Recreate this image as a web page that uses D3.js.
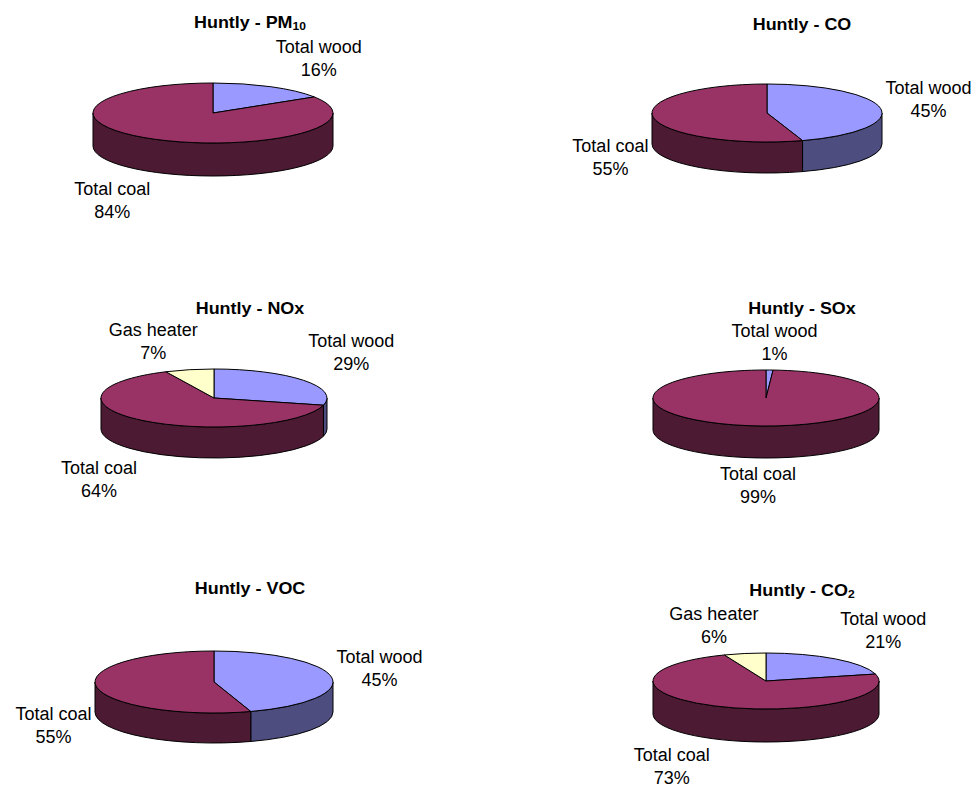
<!DOCTYPE html>
<html>
<head>
<meta charset="utf-8">
<script src="https://cdn.jsdelivr.net/npm/d3@7/dist/d3.min.js"></script>
<style>
  html, body { margin: 0; padding: 0; background: #fff; }
  svg { display: block; font-family: "Liberation Sans", Arial, sans-serif; }
</style>
</head>
<body>
<svg id="chart" width="979" height="787"></svg>
<script>
// Source categories (slice order, clockwise from 12 o'clock)
const categories = ["Total wood", "Total coal", "Gas heater"];

// Share of emissions by source, percent
const pm10Values = [16, 84, 0];
const coValues   = [45, 55, 0];
const noxValues  = [29, 64, 7];
const soxValues  = [1, 99, 0];
const vocValues  = [45, 55, 0];
const co2Values  = [21, 73, 6];

// Chart titles: [main text, subscript]
const titles = [
  ["Huntly - PM", "10"],
  ["Huntly - CO", ""],
  ["Huntly - NOx", ""],
  ["Huntly - SOx", ""],
  ["Huntly - VOC", ""],
  ["Huntly - CO", "2"]
];
const seriesList = [pm10Values, coValues, noxValues, soxValues, vocValues, co2Values];

// Panel layout: title centre and pie geometry
const panels = [
  { tx: 250, ty: 22,  cx: 213, cy: 113, rx: 120, ry: 30, depth: 33 },
  { tx: 802, ty: 24,  cx: 767, cy: 113, rx: 115, ry: 29, depth: 31 },
  { tx: 250, ty: 308, cx: 214, cy: 398, rx: 113, ry: 29, depth: 31 },
  { tx: 802, ty: 308, cx: 766, cy: 398, rx: 113, ry: 28, depth: 32 },
  { tx: 250, ty: 588, cx: 214, cy: 682, rx: 119, ry: 31, depth: 30 },
  { tx: 802, ty: 590, cx: 766, cy: 681, rx: 113, ry: 28, depth: 33 }
];

const topColor = d3.scaleOrdinal().domain(categories).range(["#9999ff", "#993366", "#ffffcc"]);
const sideColor = d3.scaleOrdinal().domain(categories).range(["#4d4d80", "#4c1a33", "#808066"]);

const svg = d3.select("#chart");
const pie = d3.pie().sort(null).value(d => d.value);

const FONT = 18;
const LINE = 23;
const TITLE_FONT = 16.3;
const TITLE_STRETCH = 1.1;

seriesList.forEach((values, i) => {
  const p = panels[i];
  const data = categories.map((c, k) => ({ category: c, value: values[k] }))
    .filter(d => d.value > 0);
  const arcs = pie(data);

  const px = a => p.cx + p.rx * Math.sin(a);
  const py = a => p.cy - p.ry * Math.cos(a);

  const g = svg.append("g");

  // Visible outer wall: front half of the disc (angles between 90° and 270°)
  arcs.forEach(a => {
    const s0 = Math.max(a.startAngle, Math.PI / 2);
    const s1 = Math.min(a.endAngle, 3 * Math.PI / 2);
    if (s1 <= s0) return;
    const d = `M${px(s0)},${py(s0)} A${p.rx},${p.ry} 0 0 1 ${px(s1)},${py(s1)}` +
      ` L${px(s1)},${py(s1) + p.depth} A${p.rx},${p.ry} 0 0 0 ${px(s0)},${py(s0) + p.depth} Z`;
    g.append("path")
      .attr("d", d)
      .attr("fill", sideColor(a.data.category))
      .attr("stroke", "#000")
      .attr("stroke-width", 1)
      .attr("stroke-linejoin", "round");
  });

  // Top faces of the slices
  arcs.forEach(a => {
    const large = (a.endAngle - a.startAngle) > Math.PI ? 1 : 0;
    const d = `M${p.cx},${p.cy} L${px(a.startAngle)},${py(a.startAngle)}` +
      ` A${p.rx},${p.ry} 0 ${large} 1 ${px(a.endAngle)},${py(a.endAngle)} Z`;
    g.append("path")
      .attr("d", d)
      .attr("fill", topColor(a.data.category))
      .attr("stroke", "#000")
      .attr("stroke-width", 1)
      .attr("stroke-linejoin", "round");
  });

  // Title (slightly widened bold face)
  const t = g.append("text")
    .attr("transform", `translate(${p.tx},${p.ty}) scale(${TITLE_STRETCH},1)`)
    .attr("text-anchor", "middle")
    .attr("dominant-baseline", "central")
    .attr("font-weight", "bold")
    .attr("font-size", TITLE_FONT)
    .attr("fill", "#000");
  t.append("tspan").text(titles[i][0]);
  if (titles[i][1]) {
    t.append("tspan")
      .attr("font-size", 11)
      .attr("dy", 4)
      .text(titles[i][1]);
  }

  // Data labels: category name and percentage, placed just outside the rim
  arcs.forEach(a => {
    const mid = (a.startAngle + a.endAngle) / 2;
    const s = Math.sin(mid), c = Math.cos(mid);
    const ax = px(mid);
    const ay = py(mid) + (c < 0 ? p.depth : 0);

    const lab = g.append("g");
    const l1 = lab.append("text").attr("text-anchor", "middle").attr("dominant-baseline", "central")
      .attr("font-size", FONT).attr("fill", "#000").text(a.data.category);
    const l2 = lab.append("text").attr("text-anchor", "middle").attr("dominant-baseline", "central")
      .attr("font-size", FONT).attr("fill", "#000").text(d3.format(".0f")(a.data.value) + "%");
    const w = Math.max(l1.node().getComputedTextLength(), l2.node().getComputedTextLength());
    const h = 2 * LINE;
    const gap = 5;
    const fx = Math.max(-1, Math.min(1, s / 0.3));
    const fy = Math.max(-1, Math.min(1, c / 0.5));
    const lx = ax + fx * (w / 2 + gap);
    const ly = ay - fy * (h / 2 + gap);
    l1.attr("x", lx).attr("y", ly - LINE / 2);
    l2.attr("x", lx).attr("y", ly + LINE / 2);
  });
});
</script>
</body>
</html>
